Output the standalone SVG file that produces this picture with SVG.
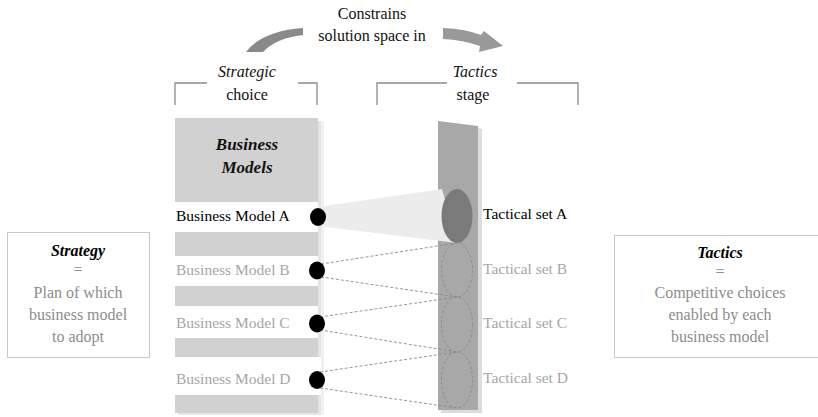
<svg xmlns="http://www.w3.org/2000/svg" width="818" height="417" viewBox="0 0 818 417">
  <!-- Top caption and curved arrows -->
  <g id="caption">
    <text x="372" y="19" font-family="Liberation Serif" font-size="16" fill="#111" text-anchor="middle">Constrains</text>
    <text x="372" y="41" font-family="Liberation Serif" font-size="16" fill="#111" text-anchor="middle">solution space in</text>
    <path d="M246,52 Q262,31 303,28 L303,35 Q276,38 263,52 Z" fill="#8a8a8a"/>
    <path d="M443,28 Q466,29 481,35 L484,31 L503,46 L479,52 L480,46 Q463,40 443,39 Z" fill="#999999"/>
  </g>

  <!-- Stage headers with brackets -->
  <g id="hdr-strategic">
    <text x="247" y="77" font-family="Liberation Serif" font-size="16" font-style="italic" fill="#111" text-anchor="middle">Strategic</text>
    <text x="247" y="100" font-family="Liberation Serif" font-size="16" fill="#111" text-anchor="middle">choice</text>
    <path d="M175,105 V83 H207 M298,83 H317 V105" fill="none" stroke="#8a8a8a" stroke-width="1.3"/>
  </g>
  <g id="hdr-tactics">
    <text x="475" y="77" font-family="Liberation Serif" font-size="16" font-style="italic" fill="#111" text-anchor="middle">Tactics</text>
    <text x="473" y="100" font-family="Liberation Serif" font-size="16" fill="#111" text-anchor="middle">stage</text>
    <path d="M377,105 V83 H447 M517,83 H578 V105" fill="none" stroke="#8a8a8a" stroke-width="1.3"/>
  </g>

  <!-- Business model column with soft right/bottom shade -->
  <g id="bm-column">
    <rect x="318" y="121" width="3" height="294" fill="#e4e4e4"/>
    <rect x="321" y="121" width="3" height="294" fill="#f0f0f0"/>
    <rect x="178" y="413" width="143" height="2" fill="#e6e6e6"/>
    <rect x="175" y="118" width="143" height="295" fill="#d0d1d0"/>
    <rect x="171" y="202" width="147" height="30" fill="#fff"/>
    <rect x="171" y="256" width="147" height="30" fill="#fff"/>
    <rect x="171" y="306" width="147" height="32" fill="#fff"/>
    <rect x="171" y="357" width="150" height="38" fill="#fff"/>
    <text x="247" y="150" font-family="Liberation Serif" font-size="17" font-weight="bold" font-style="italic" fill="#111" text-anchor="middle">Business</text>
    <text x="247" y="173" font-family="Liberation Serif" font-size="17" font-weight="bold" font-style="italic" fill="#111" text-anchor="middle">Models</text>
  </g>

  <!-- Tactics strip with soft right shade -->
  <g id="tactics-strip">
    <path d="M478,128 L482,129 L482,413 L441,413 L441,410 L478,410 Z" fill="#dcdcdc"/>
    <path d="M438,121 L478,126 L478,410 L438,410 Z" fill="#a8a8a8"/>
  </g>

  <!-- Connectors -->
  <g id="connectors">
    <path d="M318,207 L442,189 L457,243 L318,226 Z" fill="#ececec"/>
    <path d="M321,264 L457,243 M321,277 L457,297 M320,317 L457,297 M320,330 L457,352 M320,372 L457,352 M320,388 L457,408" fill="none" stroke="#8a8a8a" stroke-width="0.9" stroke-dasharray="3 2"/>
  </g>

  <!-- Tactical sets -->
  <g id="tset-a">
    <ellipse cx="457" cy="216" rx="15.5" ry="27" fill="#7a7a7a"/>
    <text x="483" y="219" font-family="Liberation Serif" font-size="15.5" fill="#000">Tactical set A</text>
  </g>
  <g id="tset-b">
    <ellipse cx="457" cy="270" rx="15.5" ry="27" fill="none" stroke="#8a8a8a" stroke-width="0.9" stroke-dasharray="3 2"/>
    <text x="483" y="274" font-family="Liberation Serif" font-size="15.5" fill="#a6a6a6">Tactical set B</text>
  </g>
  <g id="tset-c">
    <ellipse cx="457" cy="324.5" rx="15.5" ry="27.5" fill="none" stroke="#8a8a8a" stroke-width="0.9" stroke-dasharray="3 2"/>
    <text x="483" y="328" font-family="Liberation Serif" font-size="15.5" fill="#a6a6a6">Tactical set C</text>
  </g>
  <g id="tset-d">
    <ellipse cx="457" cy="380" rx="15.5" ry="28" fill="none" stroke="#8a8a8a" stroke-width="0.9" stroke-dasharray="3 2"/>
    <text x="483" y="383" font-family="Liberation Serif" font-size="15.5" fill="#a6a6a6">Tactical set D</text>
  </g>

  <!-- Business models -->
  <g id="bm-a">
    <text x="176" y="221" font-family="Liberation Serif" font-size="15.5" fill="#000">Business Model A</text>
    <ellipse cx="318" cy="217" rx="8" ry="9" fill="#000"/>
  </g>
  <g id="bm-b">
    <text x="176" y="275" font-family="Liberation Serif" font-size="15.5" fill="#a6a6a6">Business Model B</text>
    <ellipse cx="317" cy="270.5" rx="8" ry="9" fill="#000"/>
  </g>
  <g id="bm-c">
    <text x="176" y="328" font-family="Liberation Serif" font-size="15.5" fill="#a6a6a6">Business Model C</text>
    <ellipse cx="317" cy="323.5" rx="8" ry="9" fill="#000"/>
  </g>
  <g id="bm-d">
    <text x="176" y="384" font-family="Liberation Serif" font-size="15.5" fill="#a6a6a6">Business Model D</text>
    <ellipse cx="317" cy="380" rx="8" ry="9" fill="#000"/>
  </g>

  <!-- Definition boxes -->
  <g id="def-strategy">
    <rect x="7.5" y="232.5" width="142" height="125" fill="#fff" stroke="#c8c8c8" stroke-width="1"/>
    <text x="78" y="256" font-family="Liberation Serif" font-size="16" font-weight="bold" font-style="italic" fill="#000" text-anchor="middle">Strategy</text>
    <text x="78" y="275" font-family="Liberation Serif" font-size="16" fill="#8c8c8c" text-anchor="middle">=</text>
    <text x="78" y="298" font-family="Liberation Serif" font-size="16" fill="#8c8c8c" text-anchor="middle">Plan of which</text>
    <text x="78" y="320" font-family="Liberation Serif" font-size="16" fill="#8c8c8c" text-anchor="middle">business model</text>
    <text x="78" y="342" font-family="Liberation Serif" font-size="16" fill="#8c8c8c" text-anchor="middle">to adopt</text>
  </g>
  <g id="def-tactics">
    <rect x="614.5" y="235.5" width="210" height="122" fill="#fff" stroke="#c8c8c8" stroke-width="1"/>
    <text x="720" y="258" font-family="Liberation Serif" font-size="16" font-weight="bold" font-style="italic" fill="#000" text-anchor="middle">Tactics</text>
    <text x="720" y="277" font-family="Liberation Serif" font-size="16" fill="#8c8c8c" text-anchor="middle">=</text>
    <text x="720" y="298" font-family="Liberation Serif" font-size="16" fill="#8c8c8c" text-anchor="middle">Competitive choices</text>
    <text x="720" y="320" font-family="Liberation Serif" font-size="16" fill="#8c8c8c" text-anchor="middle">enabled by each</text>
    <text x="720" y="342" font-family="Liberation Serif" font-size="16" fill="#8c8c8c" text-anchor="middle">business model</text>
  </g>
</svg>
